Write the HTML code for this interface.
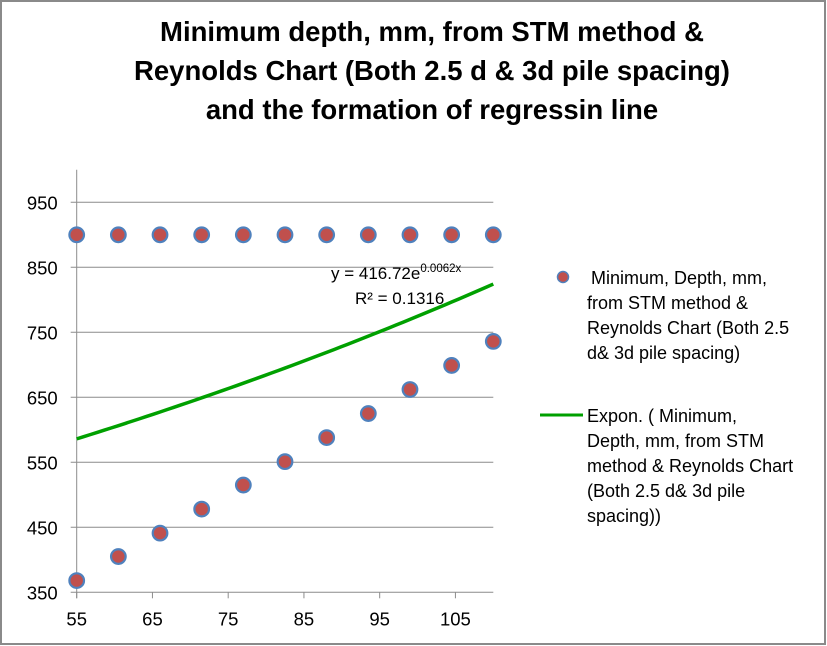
<!DOCTYPE html>
<html><head><meta charset="utf-8"><style>
html,body{margin:0;padding:0;background:#fff}
svg{display:block;font-family:"Liberation Sans",Arial,sans-serif}
</style></head><body>
<svg id="chart" width="827" height="646" viewBox="0 0 827 646">
<rect x="1" y="1" width="824" height="643" fill="#fff" stroke="#8a8a8a" stroke-width="2"/>
<g font-weight="bold" font-size="27.5" text-anchor="middle" fill="#000">
<text x="432" y="41">Minimum depth, mm, from STM method &amp;</text>
<text x="432" y="80">Reynolds Chart (Both 2.5 d &amp; 3d pile spacing)</text>
<text x="432" y="119">and the formation of regressin line</text>
</g>
<g id="grid"></g>
<g id="axes"></g>
<g id="trend"></g>
<g id="pts"></g>
<g font-size="17" fill="#000">
<text x="331" y="279">y = 416.72e<tspan font-size="11.5" dy="-7">0.0062x</tspan></text>
<text x="355" y="304">R² = 0.1316</text>
</g>
<g font-size="18" fill="#000">
<g>
<circle cx="563" cy="277" r="5.5" fill="#c0504d" stroke="#4f81bd" stroke-width="1.5"/>
<text x="591" y="284">Minimum, Depth, mm,</text>
<text x="587" y="309">from STM method &amp;</text>
<text x="587" y="334">Reynolds Chart (Both 2.5</text>
<text x="587" y="359">d&amp; 3d pile spacing)</text>
</g>
<g>
<line x1="540" y1="415" x2="583" y2="415" stroke="#00a000" stroke-width="3"/>
<text x="587" y="422">Expon. ( Minimum,</text>
<text x="587" y="447">Depth, mm, from STM</text>
<text x="587" y="472">method &amp; Reynolds Chart</text>
<text x="587" y="497">(Both 2.5 d&amp; 3d pile</text>
<text x="587" y="522">spacing))</text>
</g>
</g>
</svg>
<script>
const xValues = [55, 60.5, 66, 71.5, 77, 82.5, 88, 93.5, 99, 104.5, 110];
const upperDepths = [900, 900, 900, 900, 900, 900, 900, 900, 900, 900, 900];
const lowerDepths = [368, 405, 441, 478, 515, 551, 588, 625, 662, 699, 736];
const yTicks = [350, 450, 550, 650, 750, 850, 950];
const xTicks = [55, 65, 75, 85, 95, 105];
const trendA = 416.72, trendB = 0.0062;

const X0=55, X1=110, PX0=76.7, PX1=493.3;
const Y0=350, Y1=1000, PY0=592.3, PY1=169.8;
function sx(v){return PX0+(v-X0)/(X1-X0)*(PX1-PX0);}
function sy(v){return PY0-(v-Y0)/(Y1-Y0)*(PY0-PY1);}
const NS="http://www.w3.org/2000/svg";
function mk(tag, attrs, parent){const e=document.createElementNS(NS,tag);for(const k in attrs)e.setAttribute(k,attrs[k]);parent.appendChild(e);return e;}
const grid=document.getElementById('grid'), axes=document.getElementById('axes');
yTicks.forEach(t=>{
  const l=mk('line',{x1:PX0-6,x2:PX1,y1:sy(t),y2:sy(t),stroke:'#8c8c8c','stroke-width':1},grid);
  
  
  const tx=mk('text',{x:PX0-19,y:sy(t)+7,'font-size':18.5,'text-anchor':'end',fill:'#000'},axes);
  tx.textContent=t;
  
  
});
const ya=mk('line',{x1:PX0,x2:PX0,y1:PY1,y2:PY0+6,stroke:'#8c8c8c','stroke-width':1},axes);


xTicks.forEach(t=>{
  const l=mk('line',{x1:sx(t),x2:sx(t),y1:PY0,y2:PY0+6,stroke:'#8c8c8c','stroke-width':1},axes);
  
  
  const tx=mk('text',{x:sx(t),y:PY0+33,'font-size':18.5,'text-anchor':'middle',fill:'#000'},axes);
  tx.textContent=t;
  
  
});
const tr=document.getElementById('trend');
let d='';
for(let i=0;i<=60;i++){const x=X0+(X1-X0)*i/60;const y=trendA*Math.exp(trendB*x);d+=(i?'L':'M')+sx(x).toFixed(2)+','+sy(y).toFixed(2);}
const p=mk('path',{d:d,fill:'none',stroke:'#00a000','stroke-width':3.5},tr);


const pts=document.getElementById('pts');
[upperDepths, lowerDepths].forEach(arr=>{
  arr.forEach((v,i)=>{
    const c=mk('circle',{cx:sx(xValues[i]),cy:sy(v),r:7.3,fill:'#c0504d',stroke:'#4f81bd','stroke-width':2.2},pts);
    
    
  });
});
</script>
</body></html>
